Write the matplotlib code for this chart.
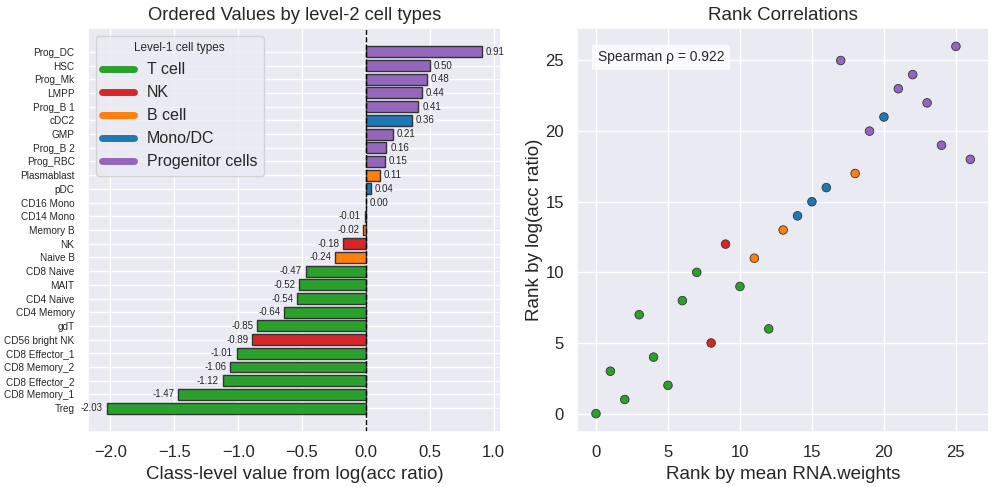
import numpy as np
import matplotlib
matplotlib.use("Agg")
import matplotlib.pyplot as plt
import seaborn as sns
from matplotlib.lines import Line2D

sns.set_theme(style="darkgrid")
plt.rcParams['font.family'] = ['Liberation Sans', 'DejaVu Sans']

# Level-1 groups and colours
grupos = ["T cell", "NK", "B cell", "Mono/DC", "Progenitor cells"]
colores = {"T cell": "#2ca02c", "NK": "#d62728", "B cell": "#ff7f0e",
           "Mono/DC": "#1f77b4", "Progenitor cells": "#9467bd"}

# Level-2 cell types, ordered ascending by value
tipos = ["Treg", "CD8 Memory_1", "CD8 Effector_2", "CD8 Memory_2", "CD8 Effector_1",
         "CD56 bright NK", "gdT", "CD4 Memory", "CD4 Naive", "MAIT", "CD8 Naive",
         "Naive B", "NK", "Memory B", "CD14 Mono", "CD16 Mono", "pDC", "Plasmablast",
         "Prog_RBC", "Prog_B 2", "GMP", "cDC2", "Prog_B 1", "LMPP", "Prog_Mk", "HSC", "Prog_DC"]
valores = [-2.03, -1.47, -1.12, -1.06, -1.01, -0.89, -0.85, -0.64, -0.54, -0.52, -0.47,
           -0.24, -0.18, -0.02, -0.01, 0.00, 0.04, 0.11, 0.15, 0.16, 0.21, 0.36, 0.41,
           0.44, 0.48, 0.50, 0.91]
grupo_tipo = ["T cell", "T cell", "T cell", "T cell", "T cell", "NK", "T cell", "T cell",
              "T cell", "T cell", "T cell", "B cell", "NK", "B cell", "Mono/DC", "Mono/DC",
              "Mono/DC", "B cell", "Progenitor cells", "Progenitor cells", "Progenitor cells",
              "Mono/DC", "Progenitor cells", "Progenitor cells", "Progenitor cells",
              "Progenitor cells", "Progenitor cells"]

# Ranks (same order as tipos): rank by log(acc ratio) and by mean RNA.weights
rango_acc = list(range(27))
rango_rna = [0, 2, 5, 1, 4, 8, 12, 3, 6, 10, 7, 11, 9, 13, 14, 15, 16, 18, 26, 24,
             19, 20, 23, 21, 22, 17, 25]
spearman = 0.922

fig = plt.figure(figsize=(9.97, 4.87), dpi=100)
ax1 = fig.add_axes([0.088, 0.113, 0.4145, 0.8295])
ax2 = fig.add_axes([0.579, 0.113, 0.413, 0.8295])

# --- Left: ordered bars ---
cols = [colores[g] for g in grupo_tipo]
y = np.arange(len(tipos))
ax1.barh(y, valores, color=cols, edgecolor="#333333", linewidth=1)
ax1.axvline(0, color="black", linestyle="--", linewidth=1)
ax1.set_yticks(y)
ax1.set_yticklabels(tipos, fontsize=7.2)
for yi, v in zip(y, valores):
    if v < 0:
        ax1.text(v - 0.03, yi, f"{v:.2f}", ha="right", va="center", fontsize=7)
    else:
        ax1.text(v + 0.03, yi, f"{v:.2f}", ha="left", va="center", fontsize=7)
ax1.set_title("Ordered Values by level-2 cell types", fontsize=13.2)
ax1.set_xlabel("Class-level value from log(acc ratio)", fontsize=13.5)
ax1.tick_params(axis="x", labelsize=12)
handles = [Line2D([0], [0], color=colores[g], lw=5) for g in grupos]
leg = ax1.legend(handles, grupos, title="Level-1 cell types", loc="upper left",
                 fontsize=11.5, title_fontsize=8.5)

# --- Right: rank scatter ---
ax2.scatter(rango_rna, rango_acc, c=cols, s=38, edgecolors="#333333", linewidths=0.6, zorder=3)
ax2.set_title("Rank Correlations", fontsize=13.5)
ax2.set_xlabel("Rank by mean RNA.weights", fontsize=13.5)
ax2.set_ylabel("Rank by log(acc ratio)", fontsize=13.5, labelpad=2)
ax2.tick_params(labelsize=12)
ax2.text(0.05, 0.945, f"Spearman \u03c1 = {spearman:.3f}", transform=ax2.transAxes,
         fontsize=10, va="top", bbox=dict(facecolor="white", alpha=0.8, edgecolor="none"))

fig.savefig("out.png", dpi=100)
